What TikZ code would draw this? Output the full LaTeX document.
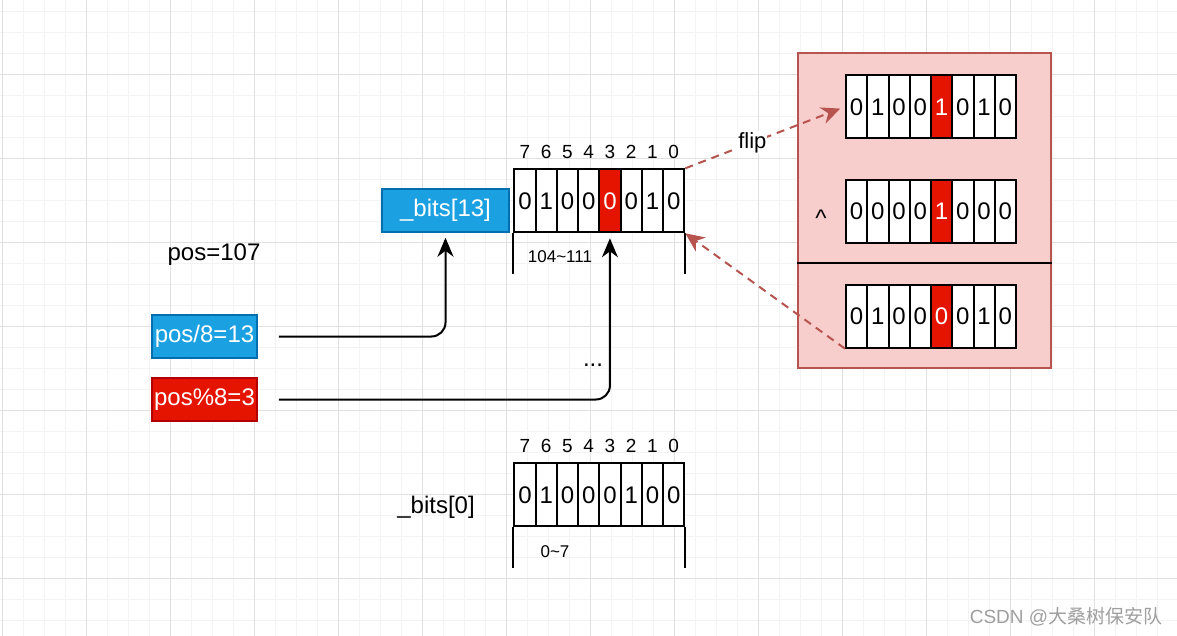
\documentclass[tikz,border=0pt]{standalone}
\usepackage{fontspec}
\setmainfont{Liberation Sans}
\newfontfamily\cjkfont{Noto Sans CJK SC}
\usetikzlibrary{arrows.meta, positioning}
\definecolor{gridminor}{HTML}{F3F3F3}
\definecolor{gridmajor}{HTML}{E0E0E0}
\definecolor{pinkfill}{HTML}{F8CECC}
\definecolor{pinkline}{HTML}{B85450}
\definecolor{bluefill}{HTML}{1BA1E2}
\definecolor{blueline}{HTML}{006EAF}
\definecolor{redfill}{HTML}{E51400}
\definecolor{redline}{HTML}{B20000}

\begin{document}
\begin{tikzpicture}[x=1pt,y=-1pt]
  \tikzstyle{cell}=[draw,line width=2pt,fill=white,minimum width=21.25pt,minimum height=63pt,inner sep=0pt,anchor=north west,font=\fontsize{24}{28}\selectfont]
  \tikzstyle{hot}=[cell,fill=redfill,text=white]
  \tikzstyle{idx}=[inner sep=0pt,font=\fontsize{19}{22}\selectfont]
  \tikzstyle{rangelabel}=[inner sep=0pt,font=\fontsize{17}{20}\selectfont]
  \tikzstyle{txt}=[inner sep=0pt,font=\fontsize{24}{28}\selectfont]
  \tikzstyle{tag}=[txt,draw,line width=1.5pt,text=white,minimum height=43pt]
  \tikzstyle{conn}=[draw,line width=2pt,rounded corners=14pt,-{Stealth[length=19pt,width=16pt,inset=6pt]}]
  \tikzstyle{flipline}=[draw=pinkline,line width=2pt,dash pattern=on 8pt off 6pt,-{Stealth[length=19pt,width=17pt,inset=6pt]}]

  \useasboundingbox (0,0) rectangle (1177,636);
  \fill[white] (0,0) rectangle (1177,636);

  % background grid
  \foreach \g in {0,...,56}
    \draw[gridminor,line width=0.8pt] ({2.7+21*\g},0) -- ({2.7+21*\g},636);
  \foreach \g in {0,...,30}
    \draw[gridminor,line width=0.8pt] (0,{11+21*\g}) -- (1177,{11+21*\g});
  \foreach \g in {0,...,14}
    \draw[gridmajor,line width=0.8pt] ({2.7+84*\g},0) -- ({2.7+84*\g},636);
  \foreach \g in {1,...,7}
    \draw[gridmajor,line width=0.8pt] (0,{-10+84*\g}) -- (1177,{-10+84*\g});

  % xor box on the right
  \node[draw=pinkline,fill=pinkfill,line width=2pt,minimum width=253pt,minimum height=314pt,inner sep=0pt] (xorbox) at (924,210.5) {};
  \coordinate (sep) at (0,263);
  \draw[line width=2pt] (xorbox.west |- sep) -- (xorbox.east |- sep);

  \foreach \v/\s [count=\i from 0] in {0/cell,1/cell,0/cell,0/cell,1/hot,0/cell,1/cell,0/cell}
    \node[\s] (r1-\i) at ({845+21.25*\i},74.3) {\v};
  \foreach \v/\s [count=\i from 0] in {0/cell,0/cell,0/cell,0/cell,1/hot,0/cell,0/cell,0/cell}
    \node[\s] (r2-\i) at ({845+21.25*\i},179) {\v};
  \foreach \v/\s [count=\i from 0] in {0/cell,1/cell,0/cell,0/cell,0/hot,0/cell,1/cell,0/cell}
    \node[\s] (r3-\i) at ({845+21.25*\i},283.7) {\v};
  \node[txt] (xorop) at (821,218) {\textasciicircum};

  % _bits[13]
  \foreach \v/\s [count=\i from 0] in {0/cell,1/cell,0/cell,0/cell,0/hot,0/cell,1/cell,0/cell}
    \node[\s] (top-\i) at ({513.3+21.25*\i},168.3) {\v};
  \foreach \b [count=\i from 0] in {7,6,5,4,3,2,1,0}
    \node[idx] (topbit-\i) at ([yshift=16pt]top-\i.north) {\b};
  \draw[line width=2pt] (top-0.south west) -- ++(0,41) (top-7.south east) -- ++(0,41);
  \node[rangelabel] (toprange) at (560,257) {104\textasciitilde 111};
  \node[tag,fill=bluefill,draw=blueline,minimum width=127pt] (b13) at (445.5,210.5) {\_bits[13]};

  % _bits[0]
  \foreach \v [count=\i from 0] in {0,1,0,0,0,1,0,0}
    \node[cell] (low-\i) at ({513.3+21.25*\i},462.3) {\v};
  \foreach \b [count=\i from 0] in {7,6,5,4,3,2,1,0}
    \node[idx] (lowbit-\i) at ([yshift=16pt]low-\i.north) {\b};
  \draw[line width=2pt] (low-0.south west) -- ++(0,41) (low-7.south east) -- ++(0,41);
  \node[rangelabel] (lowrange) at (555,552) {0\textasciitilde 7};
  \node[txt] (b0) at (436,507) {\_bits[0]};

  % pos
  \node[txt] (pos) at (214,255) {pos=107};
  \node[tag,fill=bluefill,draw=blueline,minimum width=105pt] (p8) at (204.5,336.5) {pos/8=13};
  \node[tag,fill=redfill,draw=redline,minimum width=105pt] (p3) at (204.5,399.5) {pos\%8=3};

  \draw[conn,shorten <=21pt,shorten >=5pt] (p8.east) -| (b13.south);
  \draw[conn,shorten <=21pt,shorten >=5pt] (p3.east) -| (top-4.south);
  \node[txt] (dots) at (593,365) {...};

  % flip
  \draw[flipline,shorten >=5pt] (top-7.north east) -- node[pos=0.42,fill=white,inner sep=1pt,font=\fontsize{22}{26}\selectfont] (fliplabel) {flip} (r1-0.west);
  \draw[flipline] (r3-0.south west) -- (top-7.south east);

  \node[text=gray!75,inner sep=0pt,font=\fontsize{19}{22}\selectfont] (mark) at (1066,617) {CSDN @{\cjkfont 大桑树保安队}};
\end{tikzpicture}
\end{document}
